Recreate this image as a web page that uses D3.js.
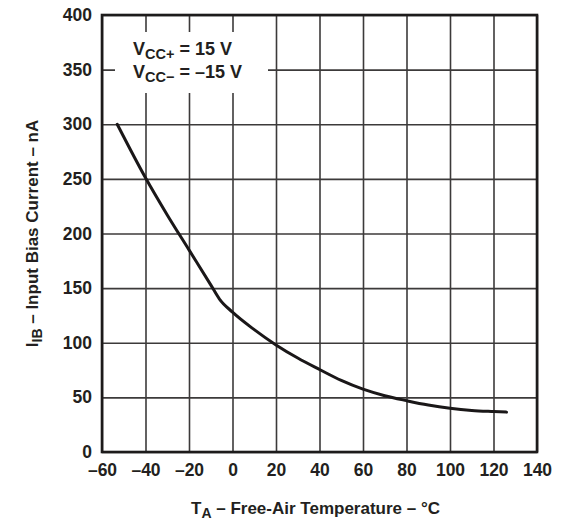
<!DOCTYPE html>
<html>
<head>
<meta charset="utf-8">
<script src="https://cdn.jsdelivr.net/npm/d3@7"></script>
<style>
  html, body { margin: 0; padding: 0; background: #fff; }
  svg { display: block; }
  text { font-family: "Liberation Sans", Arial, Helvetica, sans-serif; font-weight: bold; fill: #231f20; }
</style>
</head>
<body>
<svg id="chart" width="566" height="522"></svg>
<script>
// ---- data ----
const tempC  = [-53, -40, -30, -20, -10, -6, 0, 10, 20, 30, 40, 50, 60, 70, 80, 90, 100, 110, 120, 126];
const biasNA = [300, 251, 217, 185, 153, 140, 128, 112, 98, 86, 75.5, 65.5, 57.5, 51.5, 47, 43, 40, 38, 37, 36.5];
const xTicks = [-60, -40, -20, 0, 20, 40, 60, 80, 100, 120, 140];
const yTicks = [0, 50, 100, 150, 200, 250, 300, 350, 400];
const legendLines = [
  { main: "V", sub: "CC+", rest: " = 15 V" },
  { main: "V", sub: "CC\u2212", rest: " = \u201315 V" }
];
const xLabel = { main: "T", sub: "A", rest: " \u2013 Free-Air Temperature \u2013 \u00B0C" };
const yLabel = { main: "I", sub: "IB", rest: " \u2013 Input Bias Current \u2013 nA" };

// ---- layout ----
const svg = d3.select("#chart");
const m = { left: 102, top: 15, right: 537, bottom: 452 };
const W = m.right - m.left, H = m.bottom - m.top;

const x = d3.scaleLinear().domain([-60, 140]).range([m.left, m.right]);
const y = d3.scaleLinear().domain([0, 400]).range([m.bottom, m.top]);

const gridColor = "#3c3a3a";
const fmt = d => d < 0 ? "\u2013" + Math.abs(d) : String(d);

// vertical gridlines + x labels
const gx = svg.append("g")
  .attr("transform", `translate(0,${m.bottom})`)
  .call(d3.axisBottom(x).tickValues(xTicks).tickSize(-H).tickPadding(12).tickFormat(fmt));
gx.select(".domain").remove();
gx.selectAll(".tick line").attr("stroke", gridColor).attr("stroke-width", 1.6);
gx.selectAll(".tick text").attr("font-size", 17.5).attr("fill", "#231f20")
  .attr("font-family", "Liberation Sans, Arial, sans-serif").attr("font-weight", "bold");

// horizontal gridlines + y labels
const gy = svg.append("g")
  .attr("transform", `translate(${m.left},0)`)
  .call(d3.axisLeft(y).tickValues(yTicks).tickSize(-W).tickPadding(10).tickFormat(d3.format("d")));
gy.select(".domain").remove();
gy.selectAll(".tick line").attr("stroke", gridColor).attr("stroke-width", 1.6);
gy.selectAll(".tick text").attr("font-size", 17.5).attr("fill", "#231f20")
  .attr("font-family", "Liberation Sans, Arial, sans-serif").attr("font-weight", "bold");

// legend box (white, covers grid)
svg.append("rect")
  .attr("x", 115).attr("y", 32).attr("width", 153).attr("height", 61)
  .attr("fill", "#fff");

const legend = svg.append("g");
legendLines.forEach((l, i) => {
  const t = legend.append("text")
    .attr("x", 133).attr("y", 55 + i * 23)
    .attr("font-size", 18);
  t.append("tspan").text(l.main);
  t.append("tspan").attr("font-size", 14.5).attr("dy", 4).text(l.sub);
  t.append("tspan").attr("dy", -4).text(l.rest);
});

// frame
svg.append("rect")
  .attr("x", m.left).attr("y", m.top).attr("width", W).attr("height", H)
  .attr("fill", "none").attr("stroke", "#1d1b1b").attr("stroke-width", 2.6);

// curve
const pts = tempC.map((t, i) => [t, biasNA[i]]);
svg.append("path")
  .datum(pts)
  .attr("fill", "none")
  .attr("stroke", "#1a1718")
  .attr("stroke-width", 3)
  .attr("stroke-linecap", "round")
  .attr("d", d3.line().x(d => x(d[0])).y(d => y(d[1])).curve(d3.curveMonotoneX));

// axis titles
function labelText(sel, l, small) {
  sel.append("tspan").text(l.main);
  sel.append("tspan").attr("font-size", small).attr("dy", 4).text(l.sub);
  sel.append("tspan").attr("dy", -4).text(l.rest);
}
const xt = svg.append("text")
  .attr("x", (m.left + m.right) / 2 - 4).attr("y", 514)
  .attr("text-anchor", "middle").attr("font-size", 17);
labelText(xt, xLabel, 14);

const yt = svg.append("text")
  .attr("transform", `translate(38,${(m.top + m.bottom) / 2}) rotate(-90)`)
  .attr("text-anchor", "middle").attr("font-size", 17);
labelText(yt, yLabel, 14);
</script>
</body>
</html>
